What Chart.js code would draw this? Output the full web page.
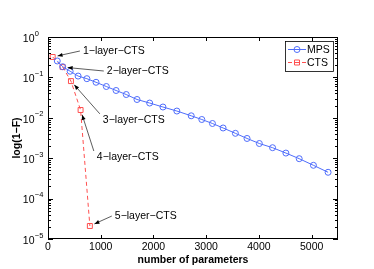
<!DOCTYPE html>
<html>
<head>
<meta charset="utf-8">
<script src="https://cdn.jsdelivr.net/npm/chart.js@4/dist/chart.umd.min.js"></script>
<style>
  html, body { margin:0; padding:0; background:#fff; }
  #wrap { width:374px; height:269px; }
</style>
</head>
<body>
<div id="wrap"><canvas id="c" width="374" height="269"></canvas></div>
<script>
// values
const mpsParams = [176, 278, 420, 571, 737, 911, 1106, 1291, 1484, 1688, 1928, 2180, 2444,
                   2716, 2917, 3119, 3321, 3554, 3775, 4008, 4259, 4512, 4764, 5034, 5312];
const mpsErr = [0.255, 0.184, 0.142, 0.108, 0.093, 0.0757, 0.0595, 0.0474, 0.0377, 0.0284,
                0.0232, 0.0185, 0.0147, 0.0112, 0.00908, 0.00723, 0.0056, 0.00413, 0.00308,
                0.00231, 0.00182, 0.00134, 0.000973, 0.000667, 0.000448];
const ctsParams = [89, 278, 435, 618, 794];
const ctsErr = [0.32, 0.18, 0.081, 0.0156, 2.1e-5];
const ctsNames = ['1\u2212layer\u2212CTS', '2\u2212layer\u2212CTS', '3\u2212layer\u2212CTS',
                  '4\u2212layer\u2212CTS', '5\u2212layer\u2212CTS'];
// where each label's text sits (data units: params, 1-F)
const labelX = [662, 1115, 1040, 926, 1267];
const labelY = [0.45, 0.144, 0.0089, 0.00107, 3.7e-5];
const xTicks = [0, 1000, 2000, 3000, 4000, 5000];
const yExps = [0, -1, -2, -3, -4, -5];

const BLUE = '#4f6dfb';
const RED = '#ff4f4f';
const FONT = '"Liberation Sans", Arial, Helvetica, sans-serif';

const matlabAxes = {
  id: 'matlabAxes',
  afterDraw(chart) {
    const ctx = chart.ctx;
    const a = chart.chartArea;
    const xs = chart.scales.x, ys = chart.scales.y;
    ctx.save();
    ctx.strokeStyle = '#000';
    ctx.lineWidth = 1;
    ctx.strokeRect(a.left + 0.5, a.top + 0.5, a.right - a.left - 1, a.bottom - a.top - 1);
    ctx.beginPath();
    xTicks.forEach(v => {
      const px = Math.round(xs.getPixelForValue(v)) + 0.5;
      ctx.moveTo(px, a.bottom); ctx.lineTo(px, a.bottom - 4);
      ctx.moveTo(px, a.top); ctx.lineTo(px, a.top + 4);
    });
    yExps.forEach(e => {
      for (let m = 1; m < 10; m++) {
        if (e === 0 && m > 1) break;
        const py = Math.round(ys.getPixelForValue(m * Math.pow(10, e))) + 0.5;
        const len = m === 1 ? 5 : 3;
        ctx.moveTo(a.left, py); ctx.lineTo(a.left + len, py);
        ctx.moveTo(a.right, py); ctx.lineTo(a.right - len, py);
      }
    });
    ctx.stroke();

    // x tick labels
    ctx.fillStyle = '#000';
    ctx.font = '10.5px ' + FONT;
    ctx.textAlign = 'center';
    ctx.textBaseline = 'middle';
    xTicks.forEach(v => ctx.fillText(String(v), xs.getPixelForValue(v), a.bottom + 8.5));

    // y tick labels as 10^n
    yExps.forEach(e => {
      const py = ys.getPixelForValue(Math.pow(10, e));
      ctx.font = '10.5px ' + FONT;
      ctx.textAlign = 'right';
      ctx.fillText('10', 34.5, py + 2);
      ctx.font = '7.5px ' + FONT;
      ctx.textAlign = 'left';
      ctx.fillText(e === 0 ? '0' : '\u2212' + (-e), 34.8, py - 3.5);
    });

    // labels with arrows
    ctx.font = '10.5px ' + FONT;
    ctx.textAlign = 'left';
    ctx.textBaseline = 'middle';
    ctsNames.forEach((name, i) => {
      const tx = xs.getPixelForValue(labelX[i]);
      const ty = ys.getPixelForValue(labelY[i]);
      ctx.fillStyle = '#000';
      ctx.fillText(name, tx, ty);
      const px = xs.getPixelForValue(ctsParams[i]);
      const py = ys.getPixelForValue(ctsErr[i]);
      let sx = tx - 3, sy = ty;
      if (Math.abs(py - ty) > Math.abs(px - sx)) sy = ty - 6;
      const dx = px - sx, dy = py - sy, d = Math.hypot(dx, dy);
      const ux = dx / d, uy = dy / d;
      const ex = px - ux * 5, ey = py - uy * 5;
      ctx.strokeStyle = '#333';
      ctx.lineWidth = 0.8;
      ctx.beginPath(); ctx.moveTo(sx, sy); ctx.lineTo(ex, ey); ctx.stroke();
      const hl = 5, hw = 2;
      ctx.fillStyle = '#000';
      ctx.beginPath();
      ctx.moveTo(ex, ey);
      ctx.lineTo(ex - ux * hl - uy * hw, ey - uy * hl + ux * hw);
      ctx.lineTo(ex - ux * hl + uy * hw, ey - uy * hl - ux * hw);
      ctx.closePath(); ctx.fill();
    });

    // legend box
    const lx = a.right - 53, ly = a.top + 4, lw = 48, lh = 30;
    ctx.fillStyle = '#fff';
    ctx.fillRect(lx, ly, lw, lh);
    ctx.strokeStyle = '#000';
    ctx.lineWidth = 0.8;
    ctx.strokeRect(lx + 0.5, ly + 0.5, lw, lh);
    chart.data.datasets.forEach((ds, i) => {
      const yy = ly + 8.5 + i * 13;
      ctx.strokeStyle = ds.borderColor;
      ctx.lineWidth = 1;
      ctx.setLineDash(ds.borderDash || []);
      ctx.beginPath(); ctx.moveTo(lx + 3, yy); ctx.lineTo(lx + 21, yy); ctx.stroke();
      ctx.setLineDash([]);
      ctx.beginPath();
      if (ds.pointStyle === 'rect') ctx.rect(lx + 9.5, yy - 2.5, 5, 5);
      else ctx.arc(lx + 12, yy, 3, 0, Math.PI * 2);
      ctx.stroke();
      ctx.fillStyle = '#000';
      ctx.font = '10.5px ' + FONT;
      ctx.fillText(ds.label, lx + 22, yy + 0.5);
    });
    ctx.restore();
  }
};

new Chart(document.getElementById('c'), {
  type: 'line',
  data: {
    datasets: [
      { label:'MPS', data: mpsParams.map((x, i) => ({ x, y: mpsErr[i] })),
        borderColor: BLUE, borderWidth: 1, pointStyle: 'circle', pointRadius: 3,
        pointBorderColor: BLUE, pointBackgroundColor: 'rgba(0,0,0,0)', pointBorderWidth: 1, tension: 0 },
      { label:'CTS', data: ctsParams.map((x, i) => ({ x, y: ctsErr[i] })),
        borderColor: RED, borderWidth: 1, borderDash: [4, 3], pointStyle: 'rect', pointRadius: 3.5,
        pointBorderColor: RED, pointBackgroundColor: 'rgba(0,0,0,0)', pointBorderWidth: 1, tension: 0 }
    ]
  },
  options: {
    responsive: false, animation: false, devicePixelRatio: 1,
    layout: { padding: { top: 37, right: 36, left: 0, bottom: 0 } },
    plugins: { legend: { display: false }, tooltip: { enabled: false } },
    scales: {
      x: {
        type: 'linear', min: 0, max: 5500,
        afterFit: s => { s.height = 30; },
        grid: { display: false }, border: { display: false },
        ticks: { stepSize: 1000, autoSkip: false, maxRotation: 0, callback: () => '' },
        title: { display: true, text: 'number of parameters', color: '#000', padding: 3,
                 font: { family: FONT, size: 10.5, weight: 'bold' } }
      },
      y: {
        type: 'logarithmic', min: 1e-5, max: 1,
        afterFit: s => { s.width = 48; },
        grid: { display: false }, border: { display: false },
        ticks: { autoSkip: false, callback: () => '' },
        title: { display: true, text: 'log(1\u2212F)', color: '#000', padding: { top: 11, bottom: 0 },
                 font: { family: FONT, size: 10.5, weight: 'bold' } }
      }
    }
  },
  plugins: [matlabAxes]
});
</script>
</body>
</html>
